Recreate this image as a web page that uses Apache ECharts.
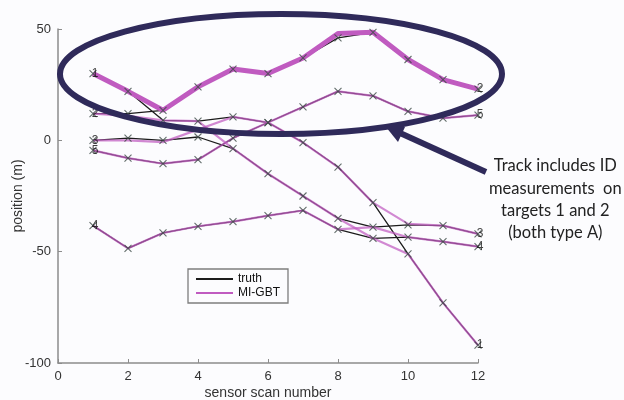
<!DOCTYPE html>
<html>
<head>
<meta charset="utf-8">
<script src="https://cdn.jsdelivr.net/npm/echarts@6/dist/echarts.min.js"></script>
<style>
  html, body { margin: 0; padding: 0; background: #fcfcfe; }
  #chart { width: 624px; height: 400px; }
</style>
</head>
<body>
<div id="chart"></div>
<script>
// Sensor scans 1..12
const scans = [1, 2, 3, 4, 5, 6, 7, 8, 9, 10, 11, 12];

// True target positions (m)
const truthTarget1 = [30, 22, 9, 8.6, 10.5, 8, -1, -12, -28, -51, -73, -92];
const truthTarget2 = [12, 12, 13.5, 24, 32, 30, 37, 46, 48.5, 36.3, 27.3, 23];
const truthTarget3 = [0, 1, 0, 1.5, -3.7, -15, -25, -35, -39, -38, -38.3, -42];
const truthTarget5 = [-4.5, -8, -10.5, -8.7, 1, 8, 15, 22, 20, 13, 10, 11.3];
const truthTarget4 = [-38.3, -48.5, -41.6, -38.6, -36.5, -33.8, -31.5, -40, -44, -43.5, -45.5, -47.7];

// MI-GBT track estimates (m); the ID-aided track is drawn heavier
const trackWithId = [30, 22, 13.5, 24, 32, 30, 37, 48, 48.5, 36.3, 27.3, 23];
const trackB = [12, 11, 9, 8.6, -3.7, -15, -25, -35, -44, -51, -73, -92];
const trackC = [0, 0, -0.8, null, 10.5, 8, -1, -12, -28, -37.5, -38.3, -42];
const trackD = [-4.5, -8, -10.5, -8.7, 1, 8, 15, 22, 20, 13, 10, 11.3];
const trackE = [-38.3, -48.5, -41.6, -38.6, -36.5, -33.8, -31.5, -40, -39, -43.5, -45.5, -47.7];

// Target number tags at the first and last scan
const startTags = ['1', '2', '3', '5', '4'];
const startTagValues = [30, 12, 0, -4.5, -38.3];
const endTags = ['2', '5', '3', '4', '1'];
const endTagValues = [23, 11.3, -42, -47.7, -92];

// Axis ticks
const xTicks = [0, 2, 4, 6, 8, 10, 12];
const yTicks = [-100, -50, 0, 50];

const MAGENTA = '#c05bc0';
const BLACK = '#1c1c1c';
const NAVY = '#2f2a5a';

const pairs = arr => scans.map((s, i) => [s, arr[i]]);

const thinTracks = [trackB, trackC, trackD, trackE];
const truths = [truthTarget1, truthTarget2, truthTarget3, truthTarget5, truthTarget4];

const series = [];

// truth lines underneath, estimates drawn over them
truths.forEach(t => series.push({
  name: 'truth', type: 'line', data: pairs(t), showSymbol: false, z: 2, silent: true,
  itemStyle: { color: BLACK },
  lineStyle: { color: BLACK, width: 1.3 }
}));

thinTracks.forEach(t => series.push({
  name: 'MI-GBT', type: 'line', data: pairs(t), showSymbol: false,
  connectNulls: true, z: 3, silent: true,
  itemStyle: { color: MAGENTA },
  lineStyle: { color: MAGENTA, width: 2.2, opacity: 0.72 }
}));

series.push({
  name: 'MI-GBT', type: 'line', data: pairs(trackWithId), showSymbol: false, z: 4, silent: true,
  itemStyle: { color: MAGENTA },
  lineStyle: { color: MAGENTA, width: 5 }
});

// x-shaped measurement markers on every truth point
series.push({
  name: 'measurements', type: 'scatter', z: 5, silent: true,
  data: truths.flatMap(t => pairs(t)),
  symbol: 'path://M0,0L10,10M10,0L0,10',
  symbolSize: 7,
  itemStyle: { color: 'none', borderColor: '#3c4a46', borderWidth: 1.1 }
});

// target number tags
const tagData = [];
startTags.forEach((tag, i) => tagData.push({ value: [1, startTagValues[i]], tag: tag }));
endTags.forEach((tag, i) => tagData.push({ value: [12, endTagValues[i]], tag: tag }));
series.push({
  name: 'tags', type: 'scatter', z: 6, silent: true,
  data: tagData,
  symbolSize: 0,
  label: {
    show: true, position: 'inside', offset: [2, 0],
    formatter: p => p.data.tag,
    fontFamily: 'Liberation Sans', fontSize: 12, color: '#111'
  }
});

const chart = echarts.init(document.getElementById('chart'));
chart.setOption({
  backgroundColor: '#fcfcfe',
  animation: false,
  grid: { left: 58, right: 146, top: 29, bottom: 37, outerBoundsMode: 'none', containLabel: false },
  xAxis: {
    type: 'value', min: 0, max: 12, interval: 2,
    name: 'sensor scan number', nameLocation: 'middle', nameGap: 23,
    nameMoveOverlap: false,
    nameTextStyle: { fontFamily: 'Liberation Sans', fontSize: 14, color: '#333' },
    axisLine: { onZero: false, lineStyle: { color: '#8c8c8c', width: 1.5 } },
    axisTick: { inside: true, length: 4, lineStyle: { color: '#8c8c8c' } },
    axisLabel: {
      margin: 7, fontFamily: 'Liberation Sans', fontSize: 13, color: '#333',
      formatter: v => xTicks.includes(v) ? String(v) : ''
    },
    splitLine: { show: false }
  },
  yAxis: {
    type: 'value', min: -100, max: 50, interval: 50,
    name: 'position (m)', nameLocation: 'middle', nameGap: 33,
    nameMoveOverlap: false,
    nameTextStyle: { fontFamily: 'Liberation Sans', fontSize: 14, color: '#333' },
    axisLine: { show: true, onZero: false, lineStyle: { color: '#8c8c8c', width: 1.5 } },
    axisTick: { show: true, inside: true, length: 4, lineStyle: { color: '#8c8c8c' } },
    axisLabel: {
      margin: 7, fontFamily: 'Liberation Sans', fontSize: 13, color: '#333',
      formatter: v => yTicks.includes(v) ? String(v) : ''
    },
    splitLine: { show: false }
  },
  legend: {
    data: [
      { name: 'truth', itemStyle: { color: BLACK } },
      { name: 'MI-GBT', itemStyle: { color: MAGENTA } }
    ],
    orient: 'vertical', left: 188, top: 269,
    icon: 'rect', itemWidth: 37, itemHeight: 2, itemGap: 2,
    padding: [4, 8, 4, 8],
    borderColor: '#7d7d7d', borderWidth: 1.3,
    textStyle: { fontFamily: 'Liberation Sans', fontSize: 12, color: '#111' },
    selectedMode: false
  },
  graphic: [
    {
      type: 'ellipse', z: 100, silent: true,
      shape: { cx: 281, cy: 74, rx: 221, ry: 60 },
      style: { fill: 'none', stroke: NAVY, lineWidth: 6 }
    },
    {
      type: 'line', z: 100, silent: true,
      shape: { x1: 486, y1: 172, x2: 400, y2: 133 },
      style: { stroke: NAVY, lineWidth: 6 }
    },
    {
      type: 'polygon', z: 100, silent: true,
      shape: { points: [[386, 127], [405, 127], [398, 142]] },
      style: { fill: NAVY }
    },
    {
      type: 'text', z: 100, silent: true, left: 489, top: 155,
      style: {
        text: 'Track includes ID\nmeasurements  on\ntargets 1 and 2\n(both type A)',
        textAlign: 'center', x: 61, lineHeight: 22.3,
        font: '16.5px Lato', fill: '#222'
      }
    }
  ],
  series: series
});
</script>
</body>
</html>
